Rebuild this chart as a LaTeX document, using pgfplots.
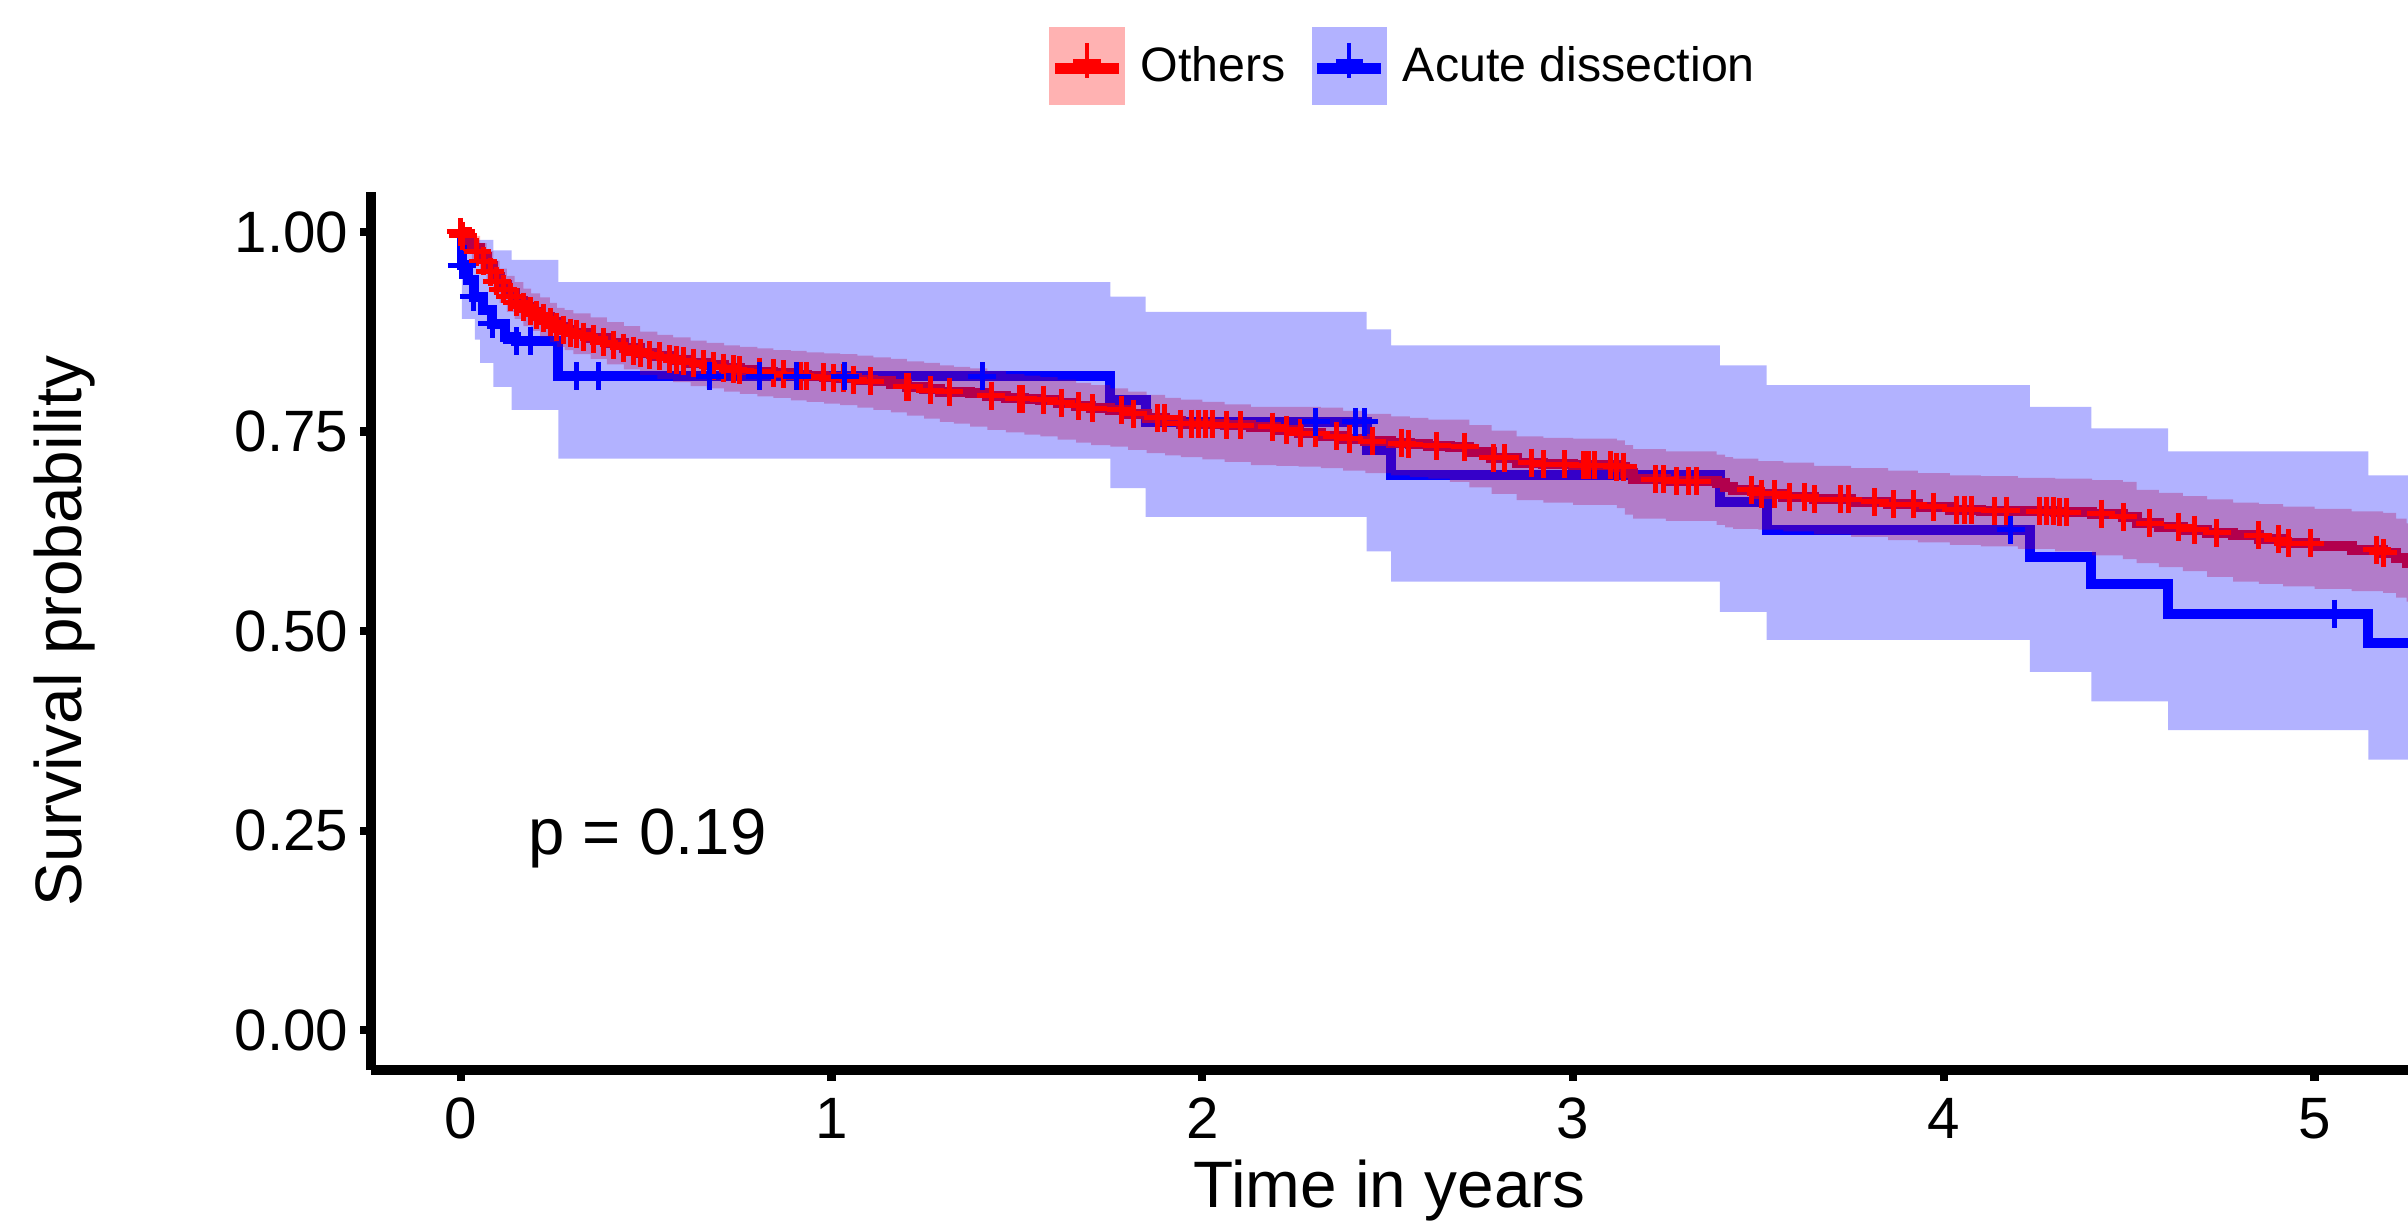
\documentclass[border=0pt]{standalone}
\usepackage{fontspec}
\setmainfont{Liberation Sans}
\usepackage{pgfplots}
\pgfplotsset{compat=1.18}
\usepackage{pgfplotstable}
\usepgfplotslibrary{fillbetween}

\pgfplotstableread{
x y lo hi
0 1.000 1.000 1.000
0.016 0.990 0.975 1.000
0.030 0.980 0.965 0.995
0.052 0.969 0.950 0.986
0.070 0.957 0.937 0.976
0.088 0.944 0.923 0.964
0.105 0.933 0.911 0.954
0.124 0.923 0.900 0.945
0.145 0.914 0.891 0.937
0.169 0.906 0.882 0.929
0.190 0.900 0.876 0.923
0.214 0.894 0.869 0.918
0.240 0.887 0.862 0.911
0.259 0.881 0.856 0.905
0.280 0.877 0.852 0.902
0.304 0.873 0.847 0.898
0.350 0.867 0.841 0.893
0.394 0.861 0.834 0.887
0.440 0.855 0.828 0.882
0.484 0.848 0.821 0.875
0.530 0.844 0.816 0.871
0.573 0.840 0.812 0.868
0.620 0.836 0.807 0.864
0.663 0.833 0.804 0.861
0.710 0.830 0.800 0.858
0.753 0.827 0.797 0.856
0.800 0.825 0.794 0.854
0.843 0.823 0.792 0.852
0.890 0.821 0.789 0.851
0.933 0.819 0.787 0.849
0.980 0.818 0.785 0.848
1.023 0.817 0.783 0.847
1.070 0.815 0.780 0.845
1.113 0.813 0.777 0.843
1.160 0.810 0.774 0.841
1.203 0.806 0.770 0.838
1.250 0.803 0.766 0.836
1.292 0.800 0.762 0.833
1.330 0.799 0.760 0.831
1.374 0.798 0.756 0.829
1.420 0.795 0.752 0.826
1.470 0.792 0.749 0.822
1.520 0.791 0.746 0.820
1.563 0.790 0.744 0.818
1.610 0.786 0.740 0.815
1.660 0.782 0.736 0.811
1.700 0.779 0.733 0.808
1.752 0.777 0.731 0.804
1.800 0.772 0.727 0.800
1.850 0.767 0.723 0.796
1.900 0.763 0.720 0.792
1.942 0.760 0.718 0.790
2.000 0.759 0.715 0.787
2.060 0.758 0.712 0.784
2.131 0.756 0.708 0.781
2.200 0.752 0.707 0.781
2.260 0.748 0.706 0.781
2.320 0.744 0.704 0.780
2.380 0.741 0.701 0.776
2.440 0.738 0.698 0.772
2.509 0.735 0.695 0.769
2.560 0.734 0.693 0.767
2.610 0.732 0.691 0.765
2.668 0.731 0.687 0.765
2.720 0.724 0.680 0.758
2.780 0.717 0.672 0.751
2.848 0.711 0.664 0.744
2.920 0.709 0.661 0.742
3.000 0.708 0.658 0.741
3.118 0.706 0.654 0.739
3.140 0.698 0.646 0.733
3.162 0.690 0.641 0.728
3.250 0.688 0.638 0.725
3.387 0.686 0.633 0.721
3.410 0.681 0.630 0.718
3.432 0.677 0.628 0.716
3.500 0.672 0.627 0.713
3.567 0.668 0.625 0.711
3.650 0.665 0.621 0.707
3.750 0.662 0.618 0.704
3.850 0.659 0.614 0.701
3.930 0.656 0.611 0.698
4.016 0.652 0.608 0.695
4.100 0.651 0.606 0.694
4.200 0.650 0.603 0.692
4.300 0.649 0.600 0.691
4.400 0.647 0.595 0.689
4.483 0.643 0.590 0.687
4.520 0.635 0.585 0.677
4.580 0.631 0.580 0.673
4.645 0.627 0.575 0.669
4.710 0.623 0.568 0.665
4.780 0.620 0.562 0.661
4.850 0.615 0.559 0.659
4.915 0.610 0.556 0.656
5.000 0.607 0.553 0.653
5.100 0.602 0.550 0.650
5.185 0.598 0.548 0.648
5.220 0.592 0.542 0.641
5.248 0.585 0.537 0.635
5.300 0.585 0.537 0.635
}\redtab

\pgfplotstableread{
x y
0 1.000
0.003 0.958
0.020 0.940
0.035 0.919
0.060 0.902
0.085 0.885
0.120 0.869
0.150 0.863
0.263 0.819
1.752 0.790
1.847 0.762
2.443 0.727
2.509 0.696
3.396 0.662
3.522 0.627
4.232 0.593
4.398 0.559
4.605 0.522
5.145 0.485
5.300 0.485
}\bluetab

\pgfplotstableread{
x lo hi
0 1.000 1.000
0.003 0.891 1.000
0.038 0.865 0.990
0.052 0.836 0.990
0.088 0.806 0.977
0.137 0.777 0.965
0.263 0.716 0.937
1.752 0.679 0.919
1.847 0.643 0.900
2.443 0.600 0.878
2.509 0.562 0.858
3.396 0.524 0.833
3.522 0.489 0.808
4.232 0.449 0.781
4.398 0.412 0.754
4.605 0.376 0.725
5.145 0.339 0.695
5.300 0.339 0.695
}\blueband

\begin{document}
\begin{tikzpicture}
\begin{axis}[
  set layers,
  scale only axis, width=611pt, height=263.4pt,
  xmin=-0.242, xmax=5.252, ymin=-0.05, ymax=1.05,
  axis x line=bottom, axis y line=left,
  axis line style={line width=3pt, -, black},
  xtick={0,1,2,3,4,5}, xticklabels={0,1,2,3,4,5},
  ytick={0,0.25,0.5,0.75,1}, yticklabels={0.00,0.25,0.50,0.75,1.00},
  tick align=outside, major tick length=3.2pt,
  tick style={line width=2.5pt, black},
  minor tick num=0,
  tick label style={font=\fontsize{17.5}{19}\selectfont, inner sep=0pt},
  xticklabel style={anchor=north, yshift=-5pt},
  yticklabel style={anchor=east, xshift=-3.4pt},
  xlabel={Time in years}, ylabel={Survival probability},
  every axis x label/.style={at={(axis description cs:0.5,-0.156)}, anchor=base, inner sep=0pt,
    font=\fontsize{19.7}{22}\selectfont},
  every axis y label/.style={at={(axis description cs:-0.1505,0.5)}, anchor=center, rotate=90, inner sep=0pt,
    font=\fontsize{19.7}{22}\selectfont},
  legend columns=2,
  legend entries={Others, Acute dissection},
  legend style={at={(axis description cs:0.3329,1.1435)}, anchor=west, draw=none, fill=none,
    inner sep=0pt, outer sep=0pt, font=\fontsize{14.5}{16}\selectfont,
    cells={anchor=west}, nodes={inner sep=0pt},
    /tikz/every odd column/.append style={column sep=4.8pt},
    /tikz/every even column/.append style={column sep=7.8pt}},
]
\addlegendimage{legend image code/.code={
  \fill[red!30] (0pt,-11.4pt) rectangle (22.2pt,11.4pt);
  \draw[red, line width=3.4pt] (1.5pt,-0.8pt) -- (20.7pt,-0.8pt);
  \draw[red, line width=2pt] (7pt,1pt) -- (15.2pt,1pt);
  \draw[red, line width=1.3pt] (11.1pt,-3.5pt) -- (11.1pt,7pt);}}
\addlegendimage{legend image code/.code={
  \fill[blue!30] (0pt,-11.4pt) rectangle (22.2pt,11.4pt);
  \draw[blue, line width=3.4pt] (1.5pt,-0.8pt) -- (20.7pt,-0.8pt);
  \draw[blue, line width=2pt] (7pt,1pt) -- (15.2pt,1pt);
  \draw[blue, line width=1.3pt] (11.1pt,-3.5pt) -- (11.1pt,7pt);}}

% step lines
\addplot[on layer=pre main, blue, line width=3pt, const plot, line join=miter, forget plot] table[x=x,y=y] {\bluetab};
\addplot[on layer=pre main, red, line width=3pt, const plot, line join=miter, forget plot] table[x=x,y=y] {\redtab};

% confidence bands
\addplot[draw=none, const plot, name path=rU, forget plot] table[x=x,y=hi] {\redtab};
\addplot[draw=none, const plot, name path=rL, forget plot] table[x=x,y=lo] {\redtab};
\addplot[fill=red, fill opacity=0.3, draw=none, forget plot] fill between[of=rU and rL];
\addplot[draw=none, const plot, name path=bU, forget plot] table[x=x,y=hi] {\blueband};
\addplot[draw=none, const plot, name path=bL, forget plot] table[x=x,y=lo] {\blueband};
\addplot[fill=blue, fill opacity=0.3, draw=none, forget plot] fill between[of=bU and bL];

% censoring marks
\addplot[only marks, mark=+, mark size=4.2pt, red, mark options={line width=1.5pt}, forget plot] coordinates {
(0,1.0) (0.005,0.995) (0.043,0.975) (0.061,0.963) (0.079,0.950) (0.097,0.938) (0.115,0.928) (0.133,0.919) (0.151,0.912) (0.169,0.906) (0.187,0.901) (0.205,0.896) (0.223,0.892) (0.241,0.887) (0.259,0.881) (0.277,0.877) (0.295,0.874) (0.313,0.872) (0.331,0.869) (0.358,0.866) (0.385,0.862) (0.412,0.859) (0.439,0.855) (0.466,0.851) (0.484,0.848) (0.510,0.846) (0.537,0.844) (0.564,0.841) (0.582,0.839) (0.600,0.838) (0.627,0.836) (0.654,0.834) (0.681,0.832) (0.708,0.830) (0.735,0.828) (0.753,0.827) (0.807,0.825) (0.843,0.823) (0.870,0.822) (0.915,0.820) (0.933,0.819) (0.978,0.818) (1.005,0.817) (1.032,0.817) (1.059,0.815) (1.104,0.813) (1.203,0.806) (1.208,0.806) (1.266,0.802) (1.317,0.800) (1.431,0.795) (1.506,0.791) (1.516,0.791) (1.572,0.790) (1.620,0.786) (1.667,0.782) (1.705,0.779) (1.781,0.777) (1.814,0.772) (1.880,0.767) (1.899,0.767) (1.942,0.760) (1.970,0.760) (1.989,0.760) (2.008,0.759) (2.027,0.759) (2.065,0.758) (2.103,0.758) (2.188,0.756) (2.226,0.752) (2.264,0.748) (2.306,0.748) (2.363,0.744) (2.396,0.741) (2.458,0.738) (2.538,0.735) (2.557,0.734) (2.633,0.732) (2.708,0.731) (2.785,0.717) (2.816,0.717) (2.888,0.711) (2.920,0.709) (2.978,0.709) (3.028,0.708) (3.041,0.708) (3.059,0.708) (3.100,0.708) (3.118,0.706) (3.136,0.706) (3.221,0.690) (3.243,0.690) (3.279,0.688) (3.311,0.688) (3.333,0.688) (3.481,0.677) (3.508,0.672) (3.544,0.672) (3.585,0.668) (3.625,0.668) (3.652,0.665) (3.720,0.665) (3.742,0.665) (3.814,0.662) (3.864,0.659) (3.918,0.659) (3.972,0.656) (4.034,0.652) (4.057,0.652) (4.075,0.652) (4.137,0.651) (4.169,0.651) (4.259,0.650) (4.277,0.650) (4.295,0.650) (4.313,0.649) (4.331,0.649) (4.425,0.647) (4.484,0.643) (4.556,0.635) (4.632,0.631) (4.677,0.627) (4.736,0.623) (4.848,0.620) (4.902,0.615) (4.929,0.610) (4.988,0.610) (5.167,0.602) (5.185,0.598)
};
\addplot[only marks, mark=+, mark size=4.2pt, blue, mark options={line width=1.5pt}, forget plot] coordinates {
(0.003,0.958) (0.035,0.919) (0.085,0.885) (0.151,0.863) (0.187,0.863) (0.313,0.819) (0.371,0.819) (0.672,0.819) (0.807,0.819) (0.906,0.819) (1.036,0.819) (1.407,0.819) (2.306,0.762) (2.414,0.762) (2.437,0.762) (4.180,0.627) (5.053,0.522)
};

\node[anchor=base west, inner sep=0pt, font=\fontsize{19.6}{22}\selectfont] at (axis cs:0.181,0.22) {p = 0.19};
\end{axis}
\pgfresetboundingbox
\path[use as bounding box] (-111.3pt,-46.2pt) rectangle (611pt,321pt);
\end{tikzpicture}
\end{document}
